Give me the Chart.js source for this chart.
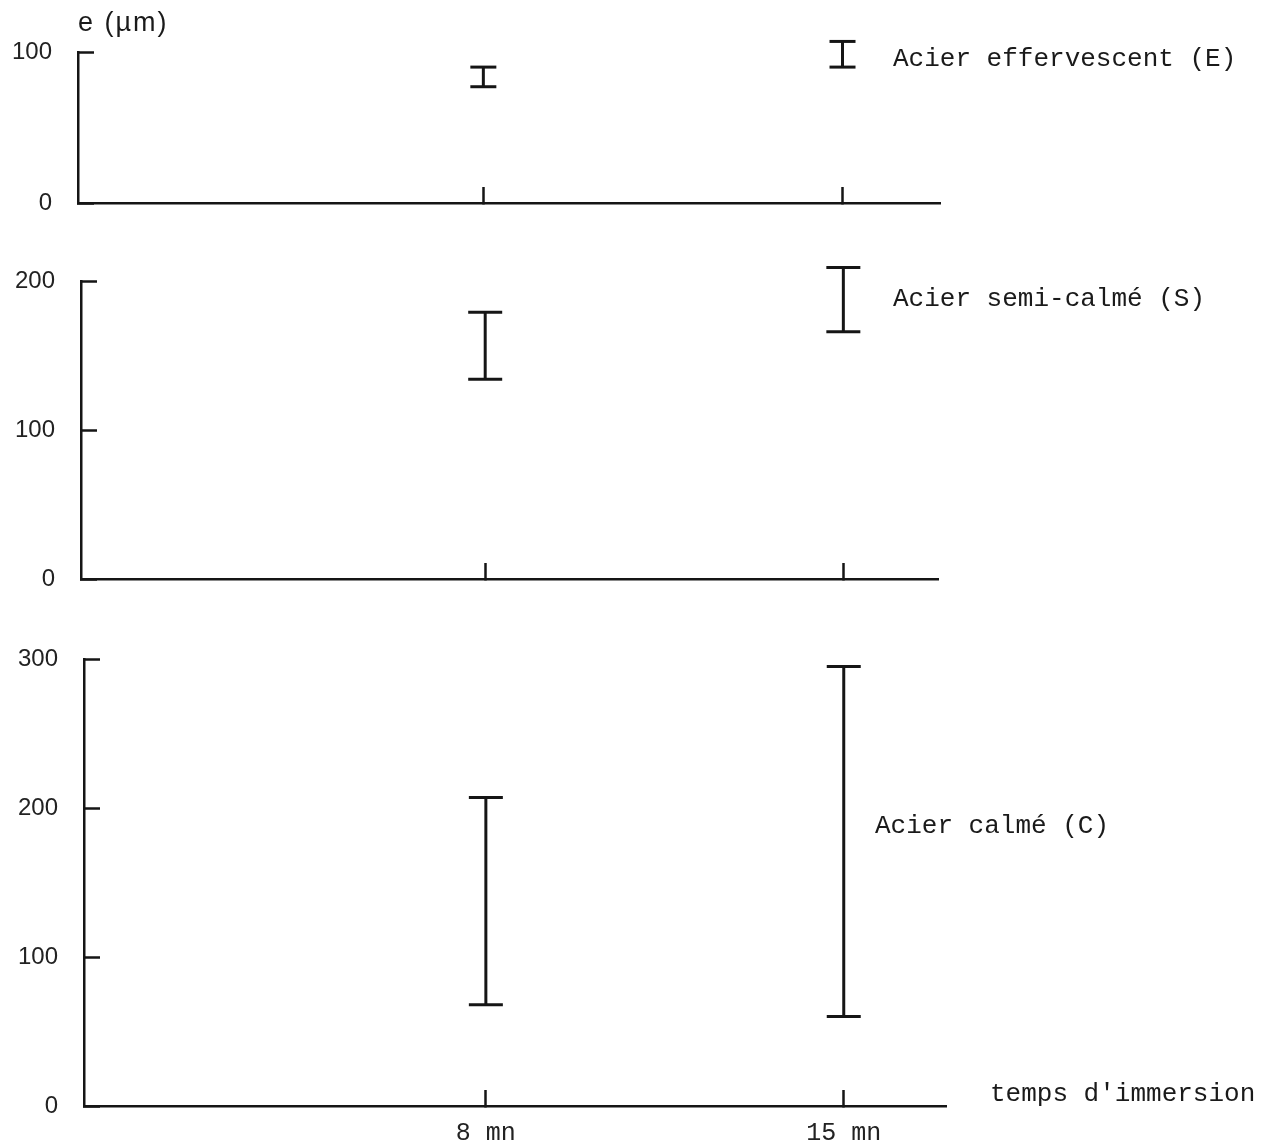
<!DOCTYPE html>
<html>
<head>
<meta charset="utf-8">
<script src="https://cdn.jsdelivr.net/npm/chart.js@4.4.1/dist/chart.umd.min.js"></script>
<style>
  body { margin: 0; background: #fff; }
  #page { position: relative; width: 1280px; height: 1144px; overflow: hidden; }
  canvas { position: absolute; left: 0; }
  .lbl { position: absolute; font-family: "Liberation Mono", monospace; font-size: 26px;
         line-height: 26px; color: #1a1a1a; white-space: pre; }
</style>
</head>
<body>
<div id="page">
  <canvas id="c1" width="1280" height="240" style="top:0"></canvas>
  <canvas id="c2" width="1280" height="370" style="top:240px"></canvas>
  <canvas id="c3" width="1280" height="534" style="top:610px"></canvas>

  <div class="lbl" style="left:78px;top:9px;font-family:'Liberation Sans',sans-serif;font-size:27px;letter-spacing:2px">e (µm)</div>
  <div class="lbl" style="left:893px;top:46px">Acier effervescent (E)</div>
  <div class="lbl" style="left:893px;top:286px">Acier semi-calmé (S)</div>
  <div class="lbl" style="left:875px;top:813px">Acier calmé (C)</div>
  <div class="lbl" style="left:990px;top:1081px">temps d'immersion</div>
</div>

<script>
// temps d'immersion (mn)
var times = [8, 15];

// épaisseur e (µm) : min / max pour chaque temps
var effLow = [77, 90];
var effHigh = [90, 107];
var semiLow = [134, 166];
var semiHigh = [179, 209];
var calmeLow = [68, 60];
var calmeHigh = [207, 295];

var yMaxE = 100, yMaxS = 200, yMaxC = 300;
var yStep = 100;

var ink = '#151515';

function rangeSets(low, high, cap) {
    var sets = [];
    for (var i in times) {
        sets.push({
            data: [{ x: times[i], y: low[i] }, { x: times[i], y: high[i] }],
            showLine: true,
            borderColor: ink,
            borderWidth: 3,
            pointStyle: 'line',
            pointRadius: cap,
            pointHoverRadius: cap,
            pointBorderWidth: 3,
            pointBorderColor: ink,
            clip: false
        });
    }
    return sets;
}

function noPad(s) {
    s.paddingTop = 0; s.paddingBottom = 0;
    s.paddingLeft = 0; s.paddingRight = 0;
}

function makePanel(id, low, high, yMax, cap, opt) {
    var ctx = document.getElementById(id);
    return new Chart(ctx, {
        type: 'scatter',
        data: { datasets: rangeSets(low, high, cap) },
        options: {
            responsive: false,
            animation: false,
            events: [],
            layout: { padding: { top: opt.top, right: 1280 - opt.right, left: 0, bottom: 0 } },
            plugins: { legend: { display: false }, tooltip: { enabled: false } },
            scales: {
                x: {
                    type: 'linear',
                    min: opt.xMin,
                    max: opt.xMax,
                    afterBuildTicks: function (s) { s.ticks = times.map(function (v) { return { value: v }; }); },
                    afterFit: function (s) { s.height = opt.xh; noPad(s); },
                    grid: { drawOnChartArea: false, drawTicks: true, tickLength: -16, tickWidth: 2.5, tickColor: ink },
                    border: { color: ink, width: 2.5 },
                    ticks: {
                        display: opt.xLabels,
                        autoSkip: false,
                        maxRotation: 0,
                        padding: 28,
                        color: '#222',
                        font: { family: 'Liberation Mono', size: 25 },
                        callback: function (v) { return v + ' mn'; }
                    }
                },
                y: {
                    type: 'linear',
                    min: 0,
                    max: yMax,
                    afterFit: function (s) { s.width = opt.left; noPad(s); },
                    grid: { drawOnChartArea: false, drawTicks: true, tickLength: -16, tickWidth: 2.5, tickColor: ink },
                    border: { color: ink, width: 2.5 },
                    ticks: {
                        stepSize: yStep,
                        padding: 42,
                        color: '#222',
                        font: { family: 'Liberation Sans', size: 24 }
                    }
                }
            }
        }
    });
}

makePanel('c1', effLow, effHigh, yMaxE, 13, { top: 52, xh: 37, left: 78, right: 940, xMin: 0.1, xMax: 16.9, xLabels: false });
makePanel('c2', semiLow, semiHigh, yMaxS, 17, { top: 41, xh: 31, left: 81, right: 938, xMin: 0.1, xMax: 16.85, xLabels: false });
makePanel('c3', calmeLow, calmeHigh, yMaxC, 17, { top: 49, xh: 38, left: 84, right: 946, xMin: 0.14, xMax: 17, xLabels: true });
</script>
</body>
</html>
